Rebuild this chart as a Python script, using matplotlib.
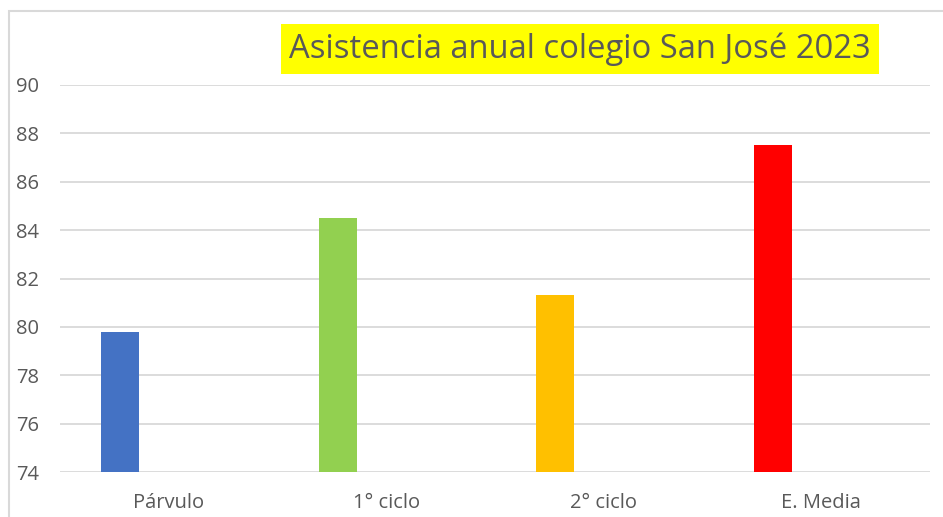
import matplotlib.pyplot as plt
from matplotlib.patches import Rectangle

categorias = ['Párvulo', '1° ciclo', '2° ciclo', 'E. Media']
asistencia = [79.8, 84.5, 81.3, 87.5]
colores = ['#4472C4', '#92D050', '#FFC000', '#FF0000']
titulo = 'Asistencia anual colegio San José 2023'

plt.rcParams['font.family'] = ['Open Sans', 'DejaVu Sans']
gris = '#595959'

fig = plt.figure(figsize=(9.43, 5.17), dpi=100)
# marco del grafico (cortado a la derecha y abajo)
fig.patches.append(Rectangle((9 / 943, -0.05), 1.0, 1 - 11 / 517 + 0.05,
                             transform=fig.transFigure, fill=False,
                             edgecolor='#D9D9D9', linewidth=1.5))

ax = fig.add_axes([60 / 943, 1 - 472 / 517, 870 / 943, (472 - 85) / 517])
pos = range(len(categorias))
ax.bar([p - 0.223 for p in pos], [v - 74 for v in asistencia], bottom=74,
       width=0.175, color=colores, zorder=3)

ax.set_xlim(-0.5, len(categorias) - 0.5)
ax.set_ylim(74, 90)
ax.set_yticks(range(74, 91, 2))
ax.set_xticks(list(pos))
ax.set_xticklabels(categorias)
ax.grid(axis='y', color='#D9D9D9', linewidth=1.3, zorder=0)
for s in ax.spines.values():
    s.set_visible(False)
ax.tick_params(axis='both', length=0, labelsize=14.5, colors=gris)
ax.tick_params(axis='y', pad=15)
ax.tick_params(axis='x', pad=15)

fig.text(580 / 943, 1 - 49 / 517, titulo, fontsize=23.6, color=gris,
         ha='center', va='center',
         bbox=dict(facecolor='#FFFF00', edgecolor='none', pad=6))

fig.savefig('out.png', dpi=100)
